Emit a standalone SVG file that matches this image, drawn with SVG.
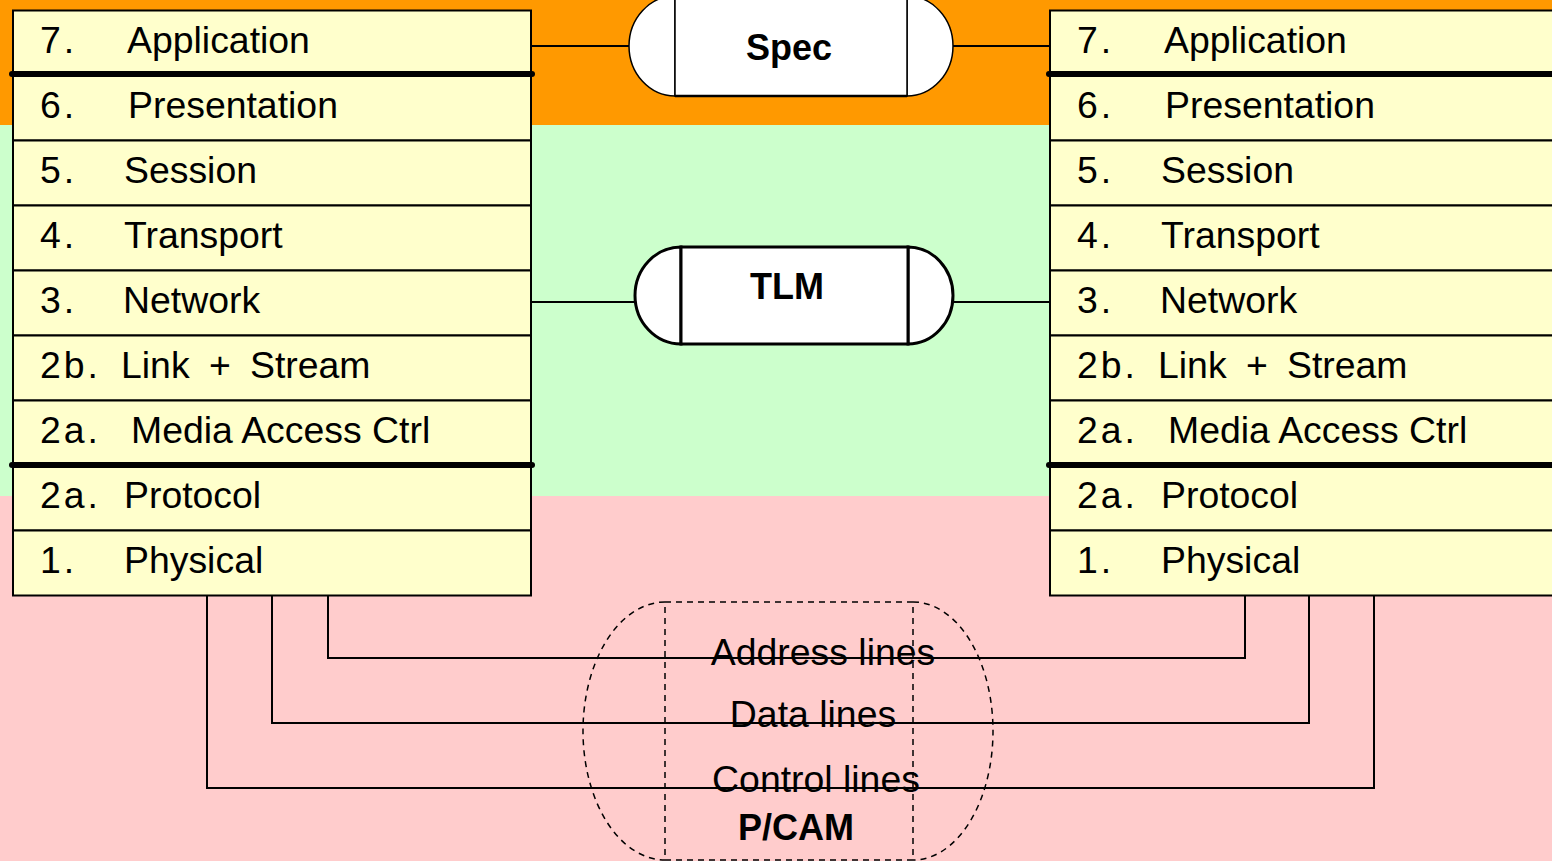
<svg xmlns="http://www.w3.org/2000/svg" width="1552" height="861" viewBox="0 0 1552 861">
<style>
.row{fill:#FFFFCC;stroke:#000;stroke-width:2}
.t{font-family:"Liberation Sans",Arial,sans-serif;font-size:37.4px;fill:#000}
.n{letter-spacing:3px}
.b{font-family:"Liberation Sans",Arial,sans-serif;font-size:36px;font-weight:bold;fill:#000}
.thick{stroke:#000;stroke-width:6;stroke-linecap:round}
.wire{fill:none;stroke:#000;stroke-width:2}
.cap{fill:#fff;stroke:#000;stroke-width:1.5}
.cap2{fill:#fff;stroke:#000;stroke-width:3}
.dash{fill:none;stroke:#000;stroke-width:1.5;stroke-dasharray:6 5}
</style>
<g id="background">
<rect x="0" y="0" width="1552" height="125" fill="#FF9900"/>
<rect x="0" y="125" width="1552" height="371" fill="#CCFFCC"/>
<rect x="0" y="496" width="1552" height="365" fill="#FFCCCC"/>
</g>
<g id="connectors">
<line class="wire" x1="531" y1="46" x2="630" y2="46" stroke-width="1.5"/>
<line class="wire" x1="952" y1="46" x2="1050" y2="46" stroke-width="1.5"/>
<line class="wire" x1="531" y1="302" x2="636" y2="302"/>
<line class="wire" x1="952" y1="302" x2="1050" y2="302"/>
<polyline class="wire" points="328,595 328,658 1245,658 1245,595"/>
<polyline class="wire" points="272,595 272,723 1309,723 1309,595"/>
<polyline class="wire" points="207,595 207,788 1374,788 1374,595"/>
</g>
<g id="left-stack">
<g id="l7"><rect class="row" x="13" y="10.5" width="518" height="65"/><text class="t n" x="40" y="53">7.</text><text class="t" x="127" y="53">Application</text></g>
<g id="l6"><rect class="row" x="13" y="75.5" width="518" height="65"/><text class="t n" x="40" y="118">6.</text><text class="t" x="128" y="118">Presentation</text></g>
<g id="l5"><rect class="row" x="13" y="140.5" width="518" height="65"/><text class="t n" x="40" y="183">5.</text><text class="t" x="124" y="183">Session</text></g>
<g id="l4"><rect class="row" x="13" y="205.5" width="518" height="65"/><text class="t n" x="40" y="248">4.</text><text class="t" x="124" y="248">Transport</text></g>
<g id="l3"><rect class="row" x="13" y="270.5" width="518" height="65"/><text class="t n" x="40" y="313">3.</text><text class="t" x="123" y="313">Network</text></g>
<g id="l2b"><rect class="row" x="13" y="335.5" width="518" height="65"/><text class="t n" x="40" y="378">2b.</text><text class="t" x="121" y="378">Link</text><text class="t" x="209" y="378">+</text><text class="t" x="250" y="378">Stream</text></g>
<g id="l2a-mac"><rect class="row" x="13" y="400.5" width="518" height="65"/><text class="t n" x="40" y="443">2a.</text><text class="t" x="131" y="443">Media Access Ctrl</text></g>
<g id="l2a-proto"><rect class="row" x="13" y="465.5" width="518" height="65"/><text class="t n" x="40" y="508">2a.</text><text class="t" x="124" y="508">Protocol</text></g>
<g id="l1"><rect class="row" x="13" y="530.5" width="518" height="65"/><text class="t n" x="40" y="573">1.</text><text class="t" x="124" y="573">Physical</text></g>
<line class="thick" x1="12" y1="74" x2="532" y2="74"/>
<line class="thick" x1="12" y1="465" x2="532" y2="465"/>
</g>
<g id="right-stack">
<g id="r7"><rect class="row" x="1050" y="10.5" width="520" height="65"/><text class="t n" x="1077" y="53">7.</text><text class="t" x="1164" y="53">Application</text></g>
<g id="r6"><rect class="row" x="1050" y="75.5" width="520" height="65"/><text class="t n" x="1077" y="118">6.</text><text class="t" x="1165" y="118">Presentation</text></g>
<g id="r5"><rect class="row" x="1050" y="140.5" width="520" height="65"/><text class="t n" x="1077" y="183">5.</text><text class="t" x="1161" y="183">Session</text></g>
<g id="r4"><rect class="row" x="1050" y="205.5" width="520" height="65"/><text class="t n" x="1077" y="248">4.</text><text class="t" x="1161" y="248">Transport</text></g>
<g id="r3"><rect class="row" x="1050" y="270.5" width="520" height="65"/><text class="t n" x="1077" y="313">3.</text><text class="t" x="1160" y="313">Network</text></g>
<g id="r2b"><rect class="row" x="1050" y="335.5" width="520" height="65"/><text class="t n" x="1077" y="378">2b.</text><text class="t" x="1158" y="378">Link</text><text class="t" x="1246" y="378">+</text><text class="t" x="1287" y="378">Stream</text></g>
<g id="r2a-mac"><rect class="row" x="1050" y="400.5" width="520" height="65"/><text class="t n" x="1077" y="443">2a.</text><text class="t" x="1168" y="443">Media Access Ctrl</text></g>
<g id="r2a-proto"><rect class="row" x="1050" y="465.5" width="520" height="65"/><text class="t n" x="1077" y="508">2a.</text><text class="t" x="1161" y="508">Protocol</text></g>
<g id="r1"><rect class="row" x="1050" y="530.5" width="520" height="65"/><text class="t n" x="1077" y="573">1.</text><text class="t" x="1161" y="573">Physical</text></g>
<line class="thick" x1="1049" y1="74" x2="1560" y2="74"/>
<line class="thick" x1="1049" y1="465" x2="1560" y2="465"/>
</g>
<g id="spec">
<path class="cap" d="M675,-4 A46,50 0 0 0 675,96 Z"/>
<path class="cap" d="M907,-4 A46,50 0 0 1 907,96 Z"/>
<rect class="cap" x="675" y="-4" width="232" height="100"/>
<line x1="675" y1="96" x2="907" y2="96" stroke="#000" stroke-width="2.5"/>
<text class="b" x="789" y="60" text-anchor="middle">Spec</text>
</g>
<g id="tlm">
<path class="cap2" d="M681,247 A46,48.5 0 0 0 681,344 Z"/>
<path class="cap2" d="M908,247 A45,48.5 0 0 1 908,344 Z"/>
<rect class="cap2" x="681" y="247" width="227" height="97"/>
<text class="b" x="787" y="299" text-anchor="middle">TLM</text>
</g>
<g id="pcam">
<path class="dash" d="M665,602 A82,129 0 0 0 665,860"/>
<path class="dash" d="M913,602 A80,129 0 0 1 913,860"/>
<rect class="dash" x="665" y="602" width="248" height="258"/>
<text class="b" x="796" y="840" text-anchor="middle">P/CAM</text>
</g>
<g id="labels">
<text class="t" x="823" y="665" text-anchor="middle">Address lines</text>
<text class="t" x="813" y="727" text-anchor="middle">Data lines</text>
<text class="t" x="816" y="792" text-anchor="middle">Control lines</text>
</g>
</svg>
